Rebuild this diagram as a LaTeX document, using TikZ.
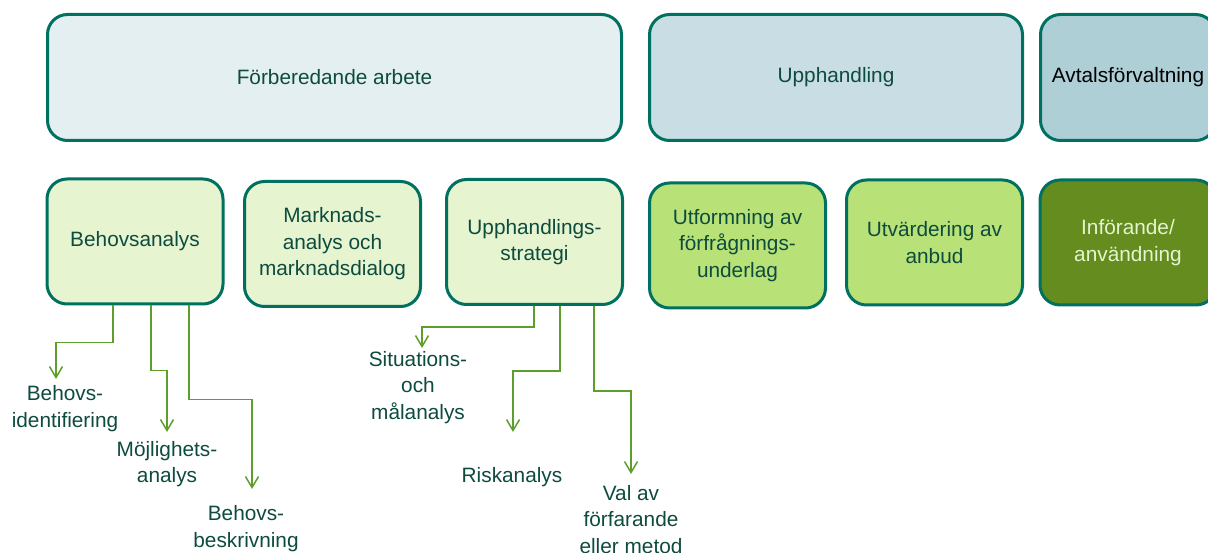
\documentclass[tikz,border=0pt]{standalone}
\usepackage{fontspec}
\setmainfont{Liberation Sans}
\usetikzlibrary{arrows.meta}

\definecolor{rimteal}{RGB}{0,112,96}
\definecolor{txtteal}{RGB}{14,75,63}
\definecolor{phaseA}{RGB}{227,239,241}
\definecolor{phaseB}{RGB}{201,222,228}
\definecolor{phaseC}{RGB}{175,207,215}
\definecolor{stepA}{RGB}{230,244,208}
\definecolor{stepB}{RGB}{184,226,119}
\definecolor{stepC}{RGB}{100,140,30}
\definecolor{arrgreen}{RGB}{94,158,45}

\begin{document}
\begin{tikzpicture}[
    x=1pt, y=-1pt,
    every node/.style={font=\fontsize{20.8}{26.5}\selectfont, text=txtteal},
    phase/.style={
        draw=rimteal,
        line width=3pt,
        rounded corners=20pt,
        align=center,
        minimum height=126pt
    },
    stepbox/.style={
        draw=rimteal,
        line width=3pt,
        rounded corners=20pt,
        align=center,
        minimum width=176pt,
        minimum height=125pt,
        inner sep=2pt
    },
    sublbl/.style={align=center, inner sep=0pt},
    arr/.style={-{Straight Barb[length=11pt,width=13pt]}, line width=1.5pt, draw=arrgreen}
]
    \useasboundingbox (0,0) rectangle (1208,553);

    % Phases
    \node[phase, fill=phaseA, minimum width=574pt] (prep) at (334.5,77.5) {Förberedande arbete};
    \node[phase, fill=phaseB, minimum width=373pt] (proc) at (836,77.5) {Upphandling};
    \node[phase, fill=phaseC, minimum width=175pt, text=black] (contract) at (1128,77.5) {Avtalsförvaltning};

    % Steps
    \node[stepbox, fill=stepA] (behov) at (135,241.5) {Behovsanalys};
    \node[stepbox, fill=stepA] (market) at (332.5,244) {Marknads-\\analys och\\marknadsdialog};
    \node[stepbox, fill=stepA] (strat) at (534.5,242) {Upphandlings-\\strategi};
    \node[stepbox, fill=stepB] (design) at (737.5,245.5) {Utformning av\\förfrågnings-\\underlag};
    \node[stepbox, fill=stepB] (evalu) at (934.5,242.5) {Utvärdering av\\anbud};
    \node[stepbox, fill=stepC, text=stepA] (impl) at (1128,242.5) {Införande/\\användning};

    % Sub-steps
    \node[sublbl] (ident) at (65,408.5) {Behovs-\\identifiering};
    \node[sublbl] (feas) at (167,464) {Möjlighets-\\analys};
    \node[sublbl] (descr) at (246,528.5) {Behovs-\\beskrivning};
    \node[sublbl] (situ) at (418,387.5) {Situations-\\och\\målanalys};
    \node[sublbl] (risk) at (512,477) {Riskanalys};
    \node[sublbl] (choice) at (631,519.5) {Val av\\förfarande\\eller metod};

    \coordinate (tipident) at (56,379);
    \coordinate (tipfeas) at (167,432);
    \coordinate (tipdescr) at (252,489);
    \coordinate (tipsitu) at (422,348);
    \coordinate (tiprisk) at (513,432);
    \coordinate (tipchoice) at (631,474);

    % Arrows
    \draw[arr] (behov.south -| 113,0) -- ++(0,37) -| (tipident);
    \draw[arr] (behov.south -| 151,0) -- ++(0,65) -| (tipfeas);
    \draw[arr] (behov.south -| 189,0) -- ++(0,94) -| (tipdescr);
    \draw[arr] (strat.south -| 534,0) -- ++(0,21) -| (tipsitu);
    \draw[arr] (strat.south -| 560,0) -- ++(0,65) -| (tiprisk);
    \draw[arr] (strat.south -| 594,0) -- ++(0,85) -| (tipchoice);

\end{tikzpicture}
\end{document}
